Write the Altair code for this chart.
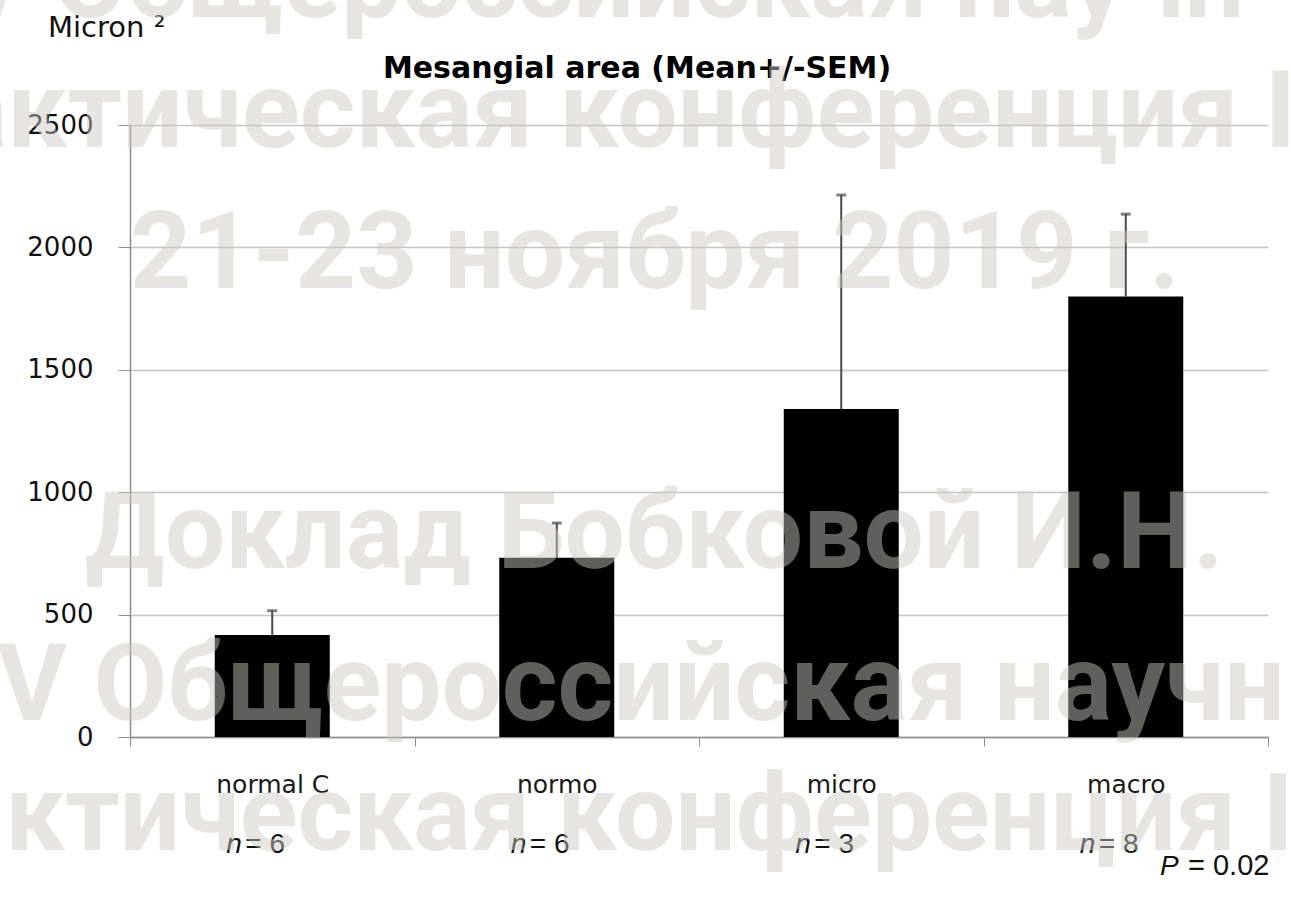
import altair as alt
import pandas as pd

# ---- data ----
categories = ["normal C", "normo", "micro", "macro"]
means = [417, 732, 1340, 1799]
sems = [99, 142, 874, 337]
n_values = [6, 6, 3, 8]
y_ticks = [0, 500, 1000, 1500, 2000, 2500]
title_text = "Mesangial area (Mean+/-SEM)"
unit_text = "Micron \u00b2"
p_text = "= 0.02"
watermark = [
    "V Общероссийская научн",
    "актическая конференция I",
    "21-23 ноября 2019 г.",
    "Доклад Бобковой И.Н.",
    "V Общероссийская научн",
    "ктическая конференция I",
]

df = pd.DataFrame({
    "category": categories,
    "mean": means,
    "upper": [m + s for m, s in zip(means, sems)],
    "nlab": [f"= {n}" for n in n_values],
    "nsym": ["n"] * len(categories),
})

W, H = 1138, 612
LEFT, TOP = 130, 125
AXIS_GREY = "#8c8c8c"
ERR = "#4a4a4a"

yscale = alt.Scale(domain=[0, 2500], nice=False)
yaxis = alt.Axis(values=y_ticks, format="d", title=None, tickSize=12, tickColor=AXIS_GREY,
                 domainColor=AXIS_GREY, domainWidth=1.5, gridColor="#c4c4c4",
                 gridWidth=1.5, labelFont="DejaVu Sans", labelFontSize=26,
                 labelColor="#111111", labelPadding=25)
xaxis = alt.Axis(title=None, labelAngle=0, tickBand="extent", tickSize=9,
                 tickColor=AXIS_GREY, domainColor=AXIS_GREY, domainWidth=1.5,
                 labelFont="DejaVu Sans", labelFontSize=25, labelColor="#1a1a1a",
                 labelPadding=26, grid=False)

base = alt.Chart(df).encode(
    x=alt.X("category:N", sort=categories,
            scale=alt.Scale(paddingInner=0, paddingOuter=0), axis=xaxis)
)

bars = base.mark_bar(color="black", width=115).encode(
    y=alt.Y("mean:Q", scale=yscale, axis=yaxis)
)
err = base.mark_rule(color=ERR, strokeWidth=2).encode(
    y=alt.Y("mean:Q", scale=yscale, axis=yaxis), y2="upper:Q"
)
cap = base.mark_tick(color=ERR, thickness=3, size=10).encode(
    y=alt.Y("upper:Q", scale=yscale, axis=yaxis)
)

n_sym = base.mark_text(font="Liberation Sans", fontSize=28, fontStyle="italic",
                       align="left", dx=-46, color="#111111").encode(
    text="nsym:N", y=alt.value(720)
)
n_lab = base.mark_text(font="Liberation Sans", fontSize=28, align="left",
                       dx=-27, color="#111111").encode(
    text="nlab:N", y=alt.value(720)
)


def label(text, x, y, **kw):
    return alt.Chart(pd.DataFrame({"t": [text]})).mark_text(**kw).encode(
        text="t:N", x=alt.value(x - LEFT), y=alt.value(y - TOP)
    )


title = label(title_text, 637, 78, font="DejaVu Sans", fontSize=30,
              fontWeight="bold", align="center", baseline="alphabetic", color="#000000")
unit = label(unit_text, 48, 37, font="DejaVu Sans", fontSize=29,
             align="left", baseline="alphabetic", color="#111111")
p_sym = label("P", 1160, 875, font="Liberation Sans", fontSize=28, fontStyle="italic",
              align="left", baseline="alphabetic", color="#111111")
p_val = label(p_text, 1188, 875, font="Liberation Sans", fontSize=29,
              align="left", baseline="alphabetic", color="#111111")

wm_style = dict(font="Roboto", fontSize=107, fontWeight="bold",
                baseline="alphabetic", color="#cbc9c3", opacity=0.47)
wm = [
    label(watermark[0], -43, 17, align="left", **wm_style),
    label(watermark[1], -50, 147, align="left", **wm_style),
    label(watermark[2], 130, 288, align="left", **wm_style),
    label(watermark[3], 85, 568, align="left", **wm_style),
    label(watermark[4], -3, 720, align="left", **wm_style),
    label(watermark[5], 5, 850, align="left", **wm_style),
]

chart = alt.layer(
    bars, err, cap, n_sym, n_lab, title, unit, p_sym, p_val, *wm
).properties(
    width=W, height=H,
    autosize=alt.AutoSizeParams(type="none"),
    padding={"left": LEFT, "top": TOP, "right": 1291 - LEFT - W, "bottom": 902 - TOP - H},
).configure_view(stroke=None)

chart.save("out.html", embed_options={"renderer": "svg", "actions": False})
